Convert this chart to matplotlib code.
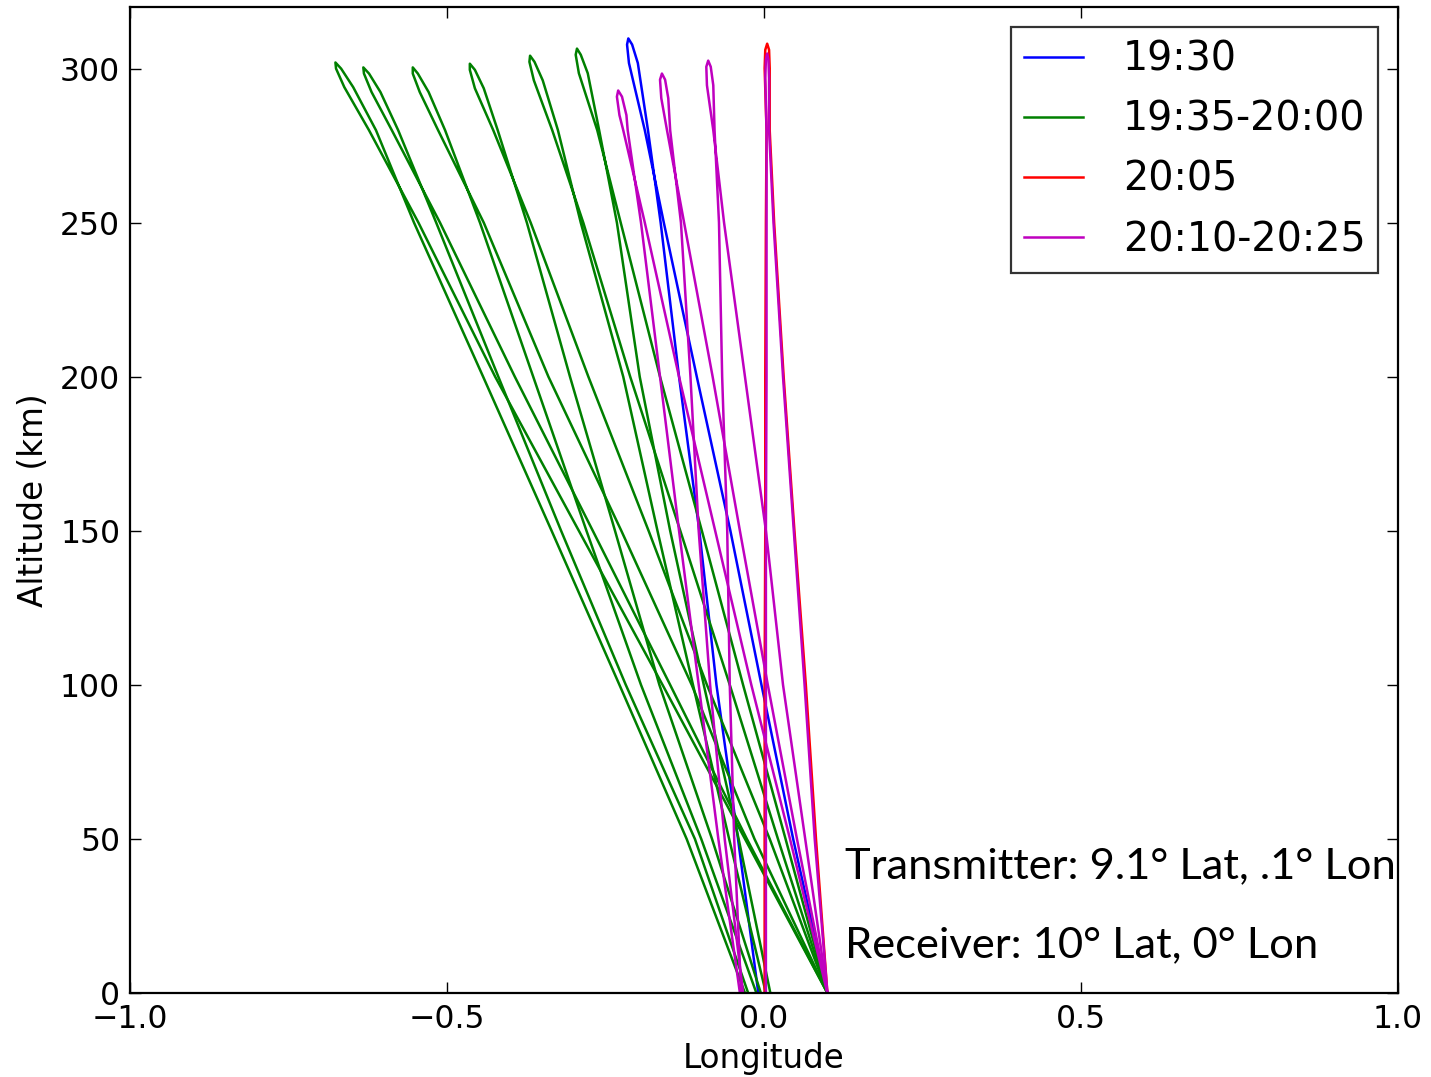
import numpy as np
import matplotlib.pyplot as plt
from matplotlib.lines import Line2D

alt_levels = [0, 50, 100, 150, 200, 250, 280]

# each ray: up leg from transmitter, down leg to receiver (longitude at alt_levels),
# two points near the apex on each leg (tip_alt), and the apex itself
b_up = [0.100, 0.046, -0.004, -0.053, -0.106, -0.158, -0.188]
b_dn = [-0.009, -0.041, -0.075, -0.102, -0.134, -0.163, -0.183]
b_tip_alt = [301.8, 307.8]
b_tip_up = [-0.213, -0.216]
b_tip_dn = [-0.199, -0.208]
b_apex = (-0.214, 309.8)

g1_up = [0.100, -0.030, -0.160, -0.292, -0.424, -0.545, -0.623]
g1_dn = [-0.030, -0.122, -0.228, -0.335, -0.443, -0.552, -0.612]
g1_tip_alt = [294.0, 300.0]
g1_tip_up = [-0.662, -0.675]
g1_tip_dn = [-0.648, -0.667]
g1_apex = (-0.676, 302.0)

g2_up = [0.100, -0.027, -0.148, -0.270, -0.393, -0.511, -0.587]
g2_dn = [-0.025, -0.109, -0.218, -0.320, -0.419, -0.517, -0.577]
g2_tip_alt = [292.4, 298.4]
g2_tip_up = [-0.619, -0.631]
g2_tip_dn = [-0.605, -0.623]
g2_apex = (-0.632, 300.4)

g3_up = [0.100, -0.015, -0.114, -0.225, -0.340, -0.442, -0.514]
g3_dn = [-0.012, -0.099, -0.194, -0.280, -0.364, -0.448, -0.503]
g3_tip_alt = [292.4, 298.4]
g3_tip_up = [-0.543, -0.554]
g3_tip_dn = [-0.529, -0.546]
g3_apex = (-0.554, 300.4)

g4_up = [0.100, 0.009, -0.090, -0.182, -0.277, -0.368, -0.427]
g4_dn = [-0.005, -0.082, -0.165, -0.235, -0.306, -0.374, -0.420]
g4_tip_alt = [293.6, 299.6]
g4_tip_up = [-0.456, -0.464]
g4_tip_dn = [-0.442, -0.456]
g4_apex = (-0.464, 301.6)

g5_up = [0.100, 0.022, -0.054, -0.132, -0.211, -0.285, -0.334]
g5_dn = [0.003, -0.055, -0.112, -0.168, -0.222, -0.289, -0.325]
g5_tip_alt = [296.2, 302.2]
g5_tip_up = [-0.363, -0.370]
g5_tip_dn = [-0.349, -0.362]
g5_apex = (-0.369, 304.2)

g6_up = [0.100, 0.034, -0.033, -0.098, -0.164, -0.226, -0.263]
g6_dn = [0.010, -0.040, -0.095, -0.148, -0.196, -0.232, -0.260]
g6_tip_alt = [298.5, 304.5]
g6_tip_up = [-0.292, -0.297]
g6_tip_dn = [-0.278, -0.289]
g6_apex = (-0.295, 306.5)

r_up = [0.100, 0.082, 0.066, 0.048, 0.031, 0.016, 0.009]
r_dn = [0.001, 0.001, 0.001, 0.002, 0.002, 0.003, 0.004]
r_tip_alt = [300.1, 306.1]
r_tip_up = [0.009, 0.008]
r_tip_dn = [0.001, 0.002]
r_apex = (0.005, 308.1)

m1_up = [0.100, 0.041, -0.020, -0.077, -0.134, -0.188, -0.222]
m1_dn = [-0.038, -0.072, -0.103, -0.134, -0.164, -0.194, -0.215]
m1_tip_alt = [284.9, 290.9]
m1_tip_up = [-0.228, -0.232]
m1_tip_dn = [-0.217, -0.224]
m1_apex = (-0.230, 292.9)

m2_up = [0.100, 0.052, 0.006, -0.038, -0.081, -0.126, -0.153]
m2_dn = [-0.033, -0.062, -0.085, -0.103, -0.116, -0.131, -0.148]
m2_tip_alt = [290.4, 296.4]
m2_tip_up = [-0.162, -0.164]
m2_tip_dn = [-0.151, -0.156]
m2_apex = (-0.161, 298.4)

m3_up = [0.100, 0.065, 0.030, 0.003, -0.030, -0.063, -0.080]
m3_dn = [-0.036, -0.047, -0.054, -0.058, -0.066, -0.071, -0.078]
m3_tip_alt = [294.6, 300.6]
m3_tip_up = [-0.090, -0.091]
m3_tip_dn = [-0.080, -0.084]
m3_apex = (-0.088, 302.6)

m4_up = [0.100, 0.080, 0.064, 0.047, 0.030, 0.015, 0.008]
m4_dn = [0.003, 0.003, 0.003, 0.003, 0.004, 0.004, 0.004]
m4_tip_alt = [296.9, 302.9]
m4_tip_up = [0.008, 0.007]
m4_tip_dn = [0.002, 0.003]
m4_apex = (0.005, 304.9)

legend_labels = ["19:30", "19:35-20:00", "20:05", "20:10-20:25"]
colors = ["b", "g", "r", "m"]

rays = [("b", b_up, b_dn, b_tip_alt, b_tip_up, b_tip_dn, b_apex),
        ("g", g1_up, g1_dn, g1_tip_alt, g1_tip_up, g1_tip_dn, g1_apex),
        ("g", g2_up, g2_dn, g2_tip_alt, g2_tip_up, g2_tip_dn, g2_apex),
        ("g", g3_up, g3_dn, g3_tip_alt, g3_tip_up, g3_tip_dn, g3_apex),
        ("g", g4_up, g4_dn, g4_tip_alt, g4_tip_up, g4_tip_dn, g4_apex),
        ("g", g5_up, g5_dn, g5_tip_alt, g5_tip_up, g5_tip_dn, g5_apex),
        ("g", g6_up, g6_dn, g6_tip_alt, g6_tip_up, g6_tip_dn, g6_apex),
        ("r", r_up, r_dn, r_tip_alt, r_tip_up, r_tip_dn, r_apex),
        ("m", m1_up, m1_dn, m1_tip_alt, m1_tip_up, m1_tip_dn, m1_apex),
        ("m", m2_up, m2_dn, m2_tip_alt, m2_tip_up, m2_tip_dn, m2_apex),
        ("m", m3_up, m3_dn, m3_tip_alt, m3_tip_up, m3_tip_dn, m3_apex),
        ("m", m4_up, m4_dn, m4_tip_alt, m4_tip_up, m4_tip_dn, m4_apex)]


def ray_path(up, dn, tip_alt, tip_up, tip_dn, apex):
    lon = list(up) + list(tip_up) + [apex[0]] + list(tip_dn)[::-1] + list(dn)[::-1]
    alt = alt_levels + list(tip_alt) + [apex[1]] + list(tip_alt)[::-1] + alt_levels[::-1]
    return lon, alt


fig = plt.figure(figsize=(14.31, 10.77), dpi=100)
ax = fig.add_axes([130 / 1431, 84 / 1077, 1268 / 1431, 986 / 1077])

for c, up, dn, ta, tu, td, apex in rays:
    lon, alt = ray_path(up, dn, ta, tu, td, apex)
    ax.plot(lon, alt, color=c, lw=1.8, solid_joinstyle="round")

ax.set_xlim(-1, 1)
ax.set_ylim(0, 320)
ax.set_xticks([-1.0, -0.5, 0.0, 0.5, 1.0])
ax.set_yticks(np.arange(0, 301, 50))
ax.tick_params(direction="in", top=True, right=True, length=8, width=1,
               labelsize=22.7)
ax.tick_params(axis="x", pad=8)
ax.tick_params(axis="y", pad=7)
for s in ax.spines.values():
    s.set_linewidth(1.6)
ax.set_xlabel("Longitude", fontsize=23.5, labelpad=5)
ax.set_ylabel("Altitude (km)", fontsize=23.5, labelpad=7)

handles = [Line2D([], [], color=c, lw=1.8) for c in colors]
leg = ax.legend(handles, legend_labels, loc="upper right", fontsize=28.5,
                frameon=True, fancybox=False, handlelength=1.5,
                handletextpad=1.0, labelspacing=0.51, borderpad=0.32,
                borderaxespad=0.5)
leg.get_frame().set_edgecolor("black")
leg.get_frame().set_linewidth(1.6)

fig.text(845 / 1431, 1 - 878 / 1077, "Transmitter: 9.1° Lat, .1° Lon",
         fontsize=31.3, family=["Lato", "DejaVu Sans"], va="baseline")
fig.text(845 / 1431, 1 - 957 / 1077, "Receiver: 10° Lat, 0° Lon",
         fontsize=31.3, family=["Lato", "DejaVu Sans"], va="baseline")

fig.savefig("out.png", dpi=100)
